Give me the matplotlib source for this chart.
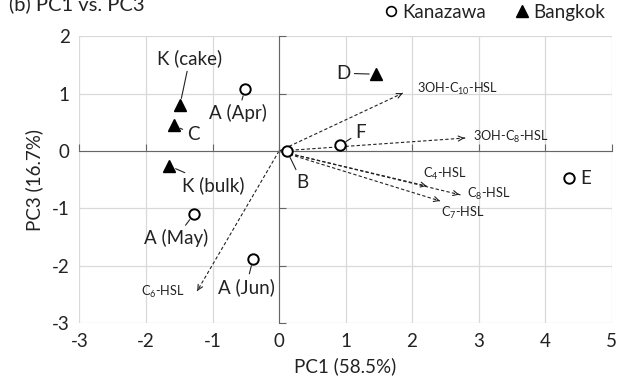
import matplotlib.pyplot as plt
import numpy as np

plt.rcParams['font.family'] = ['Lato', 'DejaVu Sans']
plt.rcParams['mathtext.fontset'] = 'custom'
plt.rcParams['mathtext.rm'] = 'Lato'
plt.rcParams['mathtext.it'] = 'Lato'
plt.rcParams['mathtext.default'] = 'regular'
plt.rcParams['axes.unicode_minus'] = False

# samples (PC1, PC3)
names = ['A (Apr)', 'A (May)', 'A (Jun)', 'B', 'E', 'F',
         'K (cake)', 'C', 'K (bulk)', 'D']
pc1 = [-0.51, -1.28, -0.39, 0.12, 4.36, 0.92, -1.49, -1.58, -1.65, 1.46]
pc3 = [1.08, -1.10, -1.88, 0.00, -0.47, 0.10, 0.80, 0.45, -0.26, 1.34]
group = ['Kanazawa'] * 6 + ['Bangkok'] * 4

# loadings (arrows from origin)
hsl_names = [r'3OH-C$_{10}$-HSL', r'3OH-C$_{8}$-HSL', r'C$_{4}$-HSL',
             r'C$_{8}$-HSL', r'C$_{7}$-HSL', r'C$_{6}$-HSL']
hsl_pc1 = [1.86, 2.83, 2.22, 2.75, 2.42, -1.23]
hsl_pc3 = [1.01, 0.23, -0.61, -0.77, -0.87, -2.44]

xticks = [-3, -2, -1, 0, 1, 2, 3, 4, 5]
yticks = [-3, -2, -1, 0, 1, 2]

# label offsets in pixels (dx, dy), leader line on/off
lab_off = {
    'A (Apr)': (-7, -24, True), 'A (May)': (-18, -24, True),
    'A (Jun)': (-7, -28, True), 'B': (15, -31, True), 'E': (17, 0, False),
    'F': (20, 13, True), 'K (cake)': (10, 47, True), 'C': (19, -9, True),
    'K (bulk)': (44, -19, True), 'D': (-33, 1, True),
}
hsl_off = [(14, 4, 'left'), (6, 1, 'left'), (-4, 12, 'left'),
           (5, 1, 'left'), (1, -12, 'left'), (-12, -1, 'right')]

fig = plt.figure(figsize=(6.19, 3.81), dpi=100)
pos = [0.1284, 0.152, 0.8596, 0.7525]
ax = fig.add_axes(pos)
ax.set_xlim(xticks[0], xticks[-1])
ax.set_ylim(yticks[0], yticks[-1])
ax.set_xticks(xticks)
ax.set_yticks(yticks)
ax.grid(True, color='#d9d9d9', lw=0.9)
ax.set_axisbelow(True)
for s in ['top', 'right']:
    ax.spines[s].set_visible(False)
ax.spines['left'].set_position(('data', 0))
ax.spines['bottom'].set_position(('data', 0))
ax.spines['left'].set_color('#666666')
ax.spines['bottom'].set_color('#666666')
ax.tick_params(direction='in', length=5, color='#666666',
               labelleft=False, labelbottom=False)

# second axes only for the tick labels on the edges
ax2 = fig.add_axes(pos, sharex=ax, sharey=ax, zorder=-1)
ax2.patch.set_visible(False)
for s in ax2.spines.values():
    s.set_visible(False)
ax2.tick_params(length=0, labelsize=13.5, labelcolor='#222222', pad=7)
ax2.set_xlabel('PC1 (58.5%)', fontsize=13.5, color='#222222', labelpad=5)
ax2.set_ylabel('PC3 (16.7%)', fontsize=13.5, color='#222222', labelpad=6)

# arrows
for i in range(len(hsl_names)):
    ax.plot([0, hsl_pc1[i]], [0, hsl_pc3[i]], ls=(0, (3, 2)), lw=0.8,
            color='#222222', zorder=2)
    ax.annotate('', xy=(hsl_pc1[i], hsl_pc3[i]),
                xytext=(hsl_pc1[i] * 0.97, hsl_pc3[i] * 0.97),
                arrowprops=dict(arrowstyle='->', lw=0.8, color='#222222',
                                mutation_scale=9))
    dx, dy, ha = hsl_off[i]
    ax.annotate(hsl_names[i], (hsl_pc1[i], hsl_pc3[i]), xytext=(dx, dy),
                textcoords='offset pixels', ha=ha, va='center',
                fontsize=9.2, color='#222222')

# points
for i in range(len(names)):
    if group[i] == 'Kanazawa':
        ax.plot(pc1[i], pc3[i], 'o', ms=7.5, mfc='white', mec='black',
                mew=1.4, zorder=4)
    else:
        ax.plot(pc1[i], pc3[i], '^', ms=8, color='black', zorder=4)
    dx, dy, lead = lab_off[names[i]]
    ax.annotate(names[i], (pc1[i], pc3[i]), xytext=(dx, dy),
                textcoords='offset pixels', ha='center', va='center',
                fontsize=13.5, color='#222222',
                arrowprops=dict(arrowstyle='-', lw=0.8, color='#222222',
                                shrinkA=1, shrinkB=5) if lead else None)

# legend
h1, = ax.plot([], [], 'o', ms=7, mfc='white', mec='black', mew=1.2, label='Kanazawa')
h2, = ax.plot([], [], '^', ms=8, color='black', label='Bangkok')
fig.legend(handles=[h1, h2], loc='upper right', bbox_to_anchor=(1.005, 1.035),
           ncol=2, frameon=False, fontsize=13.5, handletextpad=0.1,
           columnspacing=1.4, handlelength=1.0, labelcolor='#222222')

fig.text(0.014, 1 - 4 / 381, '(b) PC1 vs. PC3', fontsize=14.5, va='center',
         color='#222222')

fig.savefig('out.png', dpi=100)
